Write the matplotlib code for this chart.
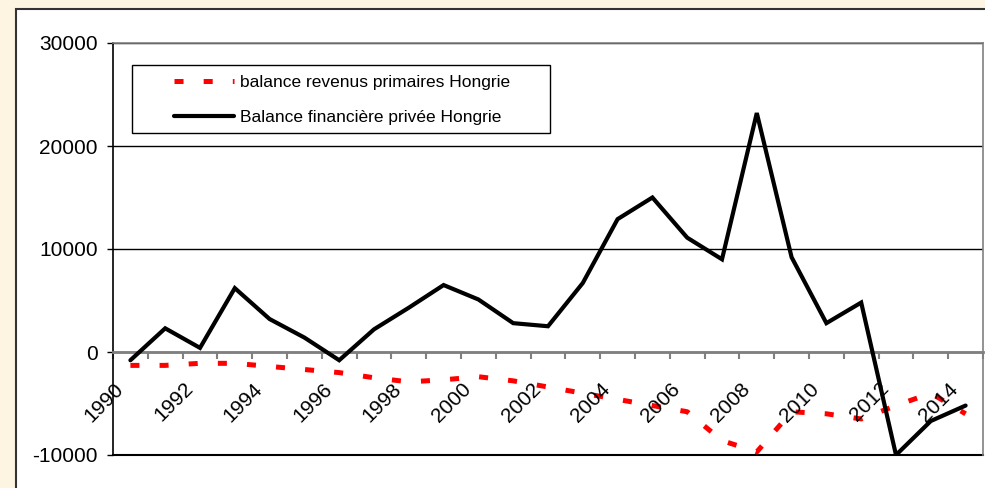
import numpy as np
import matplotlib
matplotlib.use("Agg")
import matplotlib.pyplot as plt
from matplotlib.patches import Rectangle

plt.rcParams["font.family"] = ["Liberation Sans", "DejaVu Sans"]
plt.rcParams["lines.scale_dashes"] = False
plt.rcParams["axes.unicode_minus"] = False

years = list(range(1990, 2015))
tick_years = years[::2]

revenus_primaires = [-1300, -1300, -1100, -1100, -1400, -1700, -2000, -2500, -2900, -2700,
                     -2400, -2800, -3400, -4000, -4600, -5200, -5800, -8600, -9700, -5800,
                     -6000, -6500, -5200, -4000, -6000]
financiere_privee = [-800, 2300, 400, 6200, 3200, 1400, -800, 2200, 4300, 6500,
                     5100, 2800, 2500, 6700, 12900, 15000, 11100, 9000, 23200, 9200,
                     2800, 4800, -10000, -6700, -5200]

label_rev = "balance revenus primaires Hongrie"
label_fin = "Balance financière privée Hongrie"

W, H = 985, 488
fig = plt.figure(figsize=(W / 100, H / 100), dpi=100)
fig.patch.set_facecolor("#FDF5E2")

# white chart area with dark border
fig.patches.append(Rectangle((16 / W, -0.05), 1.1, 1 - 9 / H + 0.05, transform=fig.transFigure,
                             facecolor="white", edgecolor="#333333", lw=1.5, zorder=-5))

ax = fig.add_axes([113 / W, 33 / H, 870 / W, 412 / H])
ax.set_facecolor("white")

x = np.arange(len(years))
ax.plot(x, revenus_primaires, color="#FF0000", lw=3.6, dashes=(6.5, 14.5),
        dash_capstyle="butt", label=label_rev, zorder=3)
ax.plot(x, financiere_privee, color="black", lw=3.0, solid_capstyle="round",
        solid_joinstyle="miter", label=label_fin, zorder=3)

ax.set_xlim(-0.5, len(years) - 0.5)
ax.set_ylim(-10000, 30000)
ax.set_yticks([-10000, 0, 10000, 20000, 30000])
ax.yaxis.grid(True, color="black", lw=1)
ax.set_axisbelow(True)
ax.axhline(-10000, color="black", lw=1.5, clip_on=False, zorder=2)

ax.set_xticks(np.arange(-0.5, len(years), 1))
ax.set_xticklabels([])
ax.tick_params(axis="x", direction="out", length=5, width=1.5, color="#808080")
ax.tick_params(axis="y", direction="out", length=4.3, width=1, color="black",
               pad=6.5, labelsize=15)

ax.spines["bottom"].set_position(("data", 0))
ax.spines["bottom"].set_color("#808080")
ax.spines["bottom"].set_linewidth(2)
ax.spines["left"].set_color("black")
ax.spines["left"].set_linewidth(1.2)
for s in ["top", "right"]:
    ax.spines[s].set_color("#808080")
    ax.spines[s].set_linewidth(1.2)

for yr in tick_years:
    i = years.index(yr)
    ax.annotate(str(yr), xy=(i, 0), xycoords="data", xytext=(-2.5, -19.5),
                textcoords="offset points", rotation=45, ha="right", va="top",
                fontsize=15)

# legend frame + legend
ax.add_patch(Rectangle((19 / 870, (455 - 133) / 412), 418 / 870, 68 / 412,
                       transform=ax.transAxes, facecolor="white", edgecolor="black",
                       lw=1, zorder=4))
ax.legend(frameon=False, loc="upper left", bbox_to_anchor=(52 / 870, (455 - 66) / 412),
          borderpad=0, handlelength=3.46, handletextpad=0.35, labelspacing=1.14,
          fontsize=12.5).set_zorder(5)

fig.savefig("out.png", dpi=100, facecolor=fig.get_facecolor())
